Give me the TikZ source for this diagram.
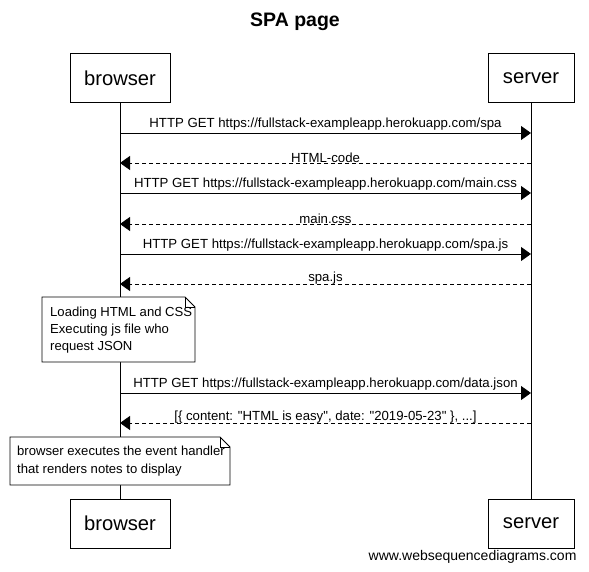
\documentclass[tikz,border=0pt]{standalone}
\usepackage{fontspec}
\setmainfont{Liberation Sans}
\newfontfamily\rawfont{Liberation Sans}[Ligatures=ResetAll]
\usetikzlibrary{arrows.meta}
\begin{document}
\begin{tikzpicture}[x=1pt,y=-1pt,
  actor/.style={draw,line width=0.8pt,minimum width=100pt,minimum height=49pt,inner sep=0pt,font=\fontsize{20.2}{24}\selectfont},
  msg/.style={line width=0.8pt,-{Triangle[length=10pt,width=14pt]}},
  reply/.style={msg,dashed,dash pattern=on 4pt off 3pt},
  lbl/.style={font=\fontsize{13.2}{15}\selectfont,inner sep=1pt,fill=white},
  note/.style={font=\fontsize{13.1}{17}\selectfont,align=left,anchor=north west,inner sep=0pt}]
\useasboundingbox (0,0) rectangle (589,572);
\node[font=\bfseries\fontsize{19.5}{22}\selectfont] (title) at (295,22) {SPA page};
\node[actor] (bt) at (120,78) {browser};
\node[actor,minimum width=86pt] (st) at (531,78) {server};
\node[actor] (bb) at (120,523.5) {browser};
\node[actor,minimum width=86pt] (sb) at (531,523.5) {server};
\draw[line width=0.8pt] (bt.south) -- (bb.north);
\draw[line width=0.8pt] (st.south) -- (sb.north);
% coordinates on lifelines
\foreach \n/\y in {1/133,2/163,3/193,4/224,5/254,6/284,7/393,8/423}{
  \coordinate (b\n) at (120,\y);
  \coordinate (s\n) at (531,\y);
}
\draw[msg] (b1) -- node[lbl,above=1pt] {HTTP GET https://fullstack-exampleapp.herokuapp.com/spa} (s1);
\draw[reply] (s2) -- node[lbl,above=-1.5pt,fill=none] {HTML-code} (b2);
\draw[msg] (b3) -- node[lbl,above=1pt] {HTTP GET https://fullstack-exampleapp.herokuapp.com/main.css} (s3);
\draw[reply] (s4) -- node[lbl,above=-1.5pt,fill=none] {main.css} (b4);
\draw[msg] (b5) -- node[lbl,above=1pt] {HTTP GET https://fullstack-exampleapp.herokuapp.com/spa.js} (s5);
\draw[reply] (s6) -- node[lbl,above=-1.5pt,fill=none] {spa.js} (b6);
\draw[msg] (b7) -- node[lbl,above=1pt] {HTTP GET https://fullstack-exampleapp.herokuapp.com/data.json} (s7);
\draw[reply] (s8) -- node[lbl,above=-1.5pt,fill=none] {\rawfont [\{ content: "HTML is easy", date: "2019-05-23" \}, ...]} (b8);
% note 1
\draw[line width=0.8pt,fill=white] (42,297) -- (185,297) -- (195,307) -- (195,362) -- (42,362) -- cycle;
\draw[line width=0.6pt] (185,297) -- (185,307) -- (195,307);
\node[note] (n1) at (50,307) {Loading HTML and CSS\\Executing js file who\\request JSON};
% note 2
\draw[line width=0.8pt,fill=white] (10,437) -- (220,437) -- (230,447) -- (230,485) -- (10,485) -- cycle;
\draw[line width=0.6pt] (220,437) -- (220,447) -- (230,447);
\node[note,font=\fontsize{13.1}{18}\selectfont] (n2) at (17,446) {browser executes the event handler\\that renders notes to display};
\node[font=\fontsize{14}{16}\selectfont,anchor=east] (wm) at (580,557) {www.websequencediagrams.com};
\end{tikzpicture}
\end{document}
